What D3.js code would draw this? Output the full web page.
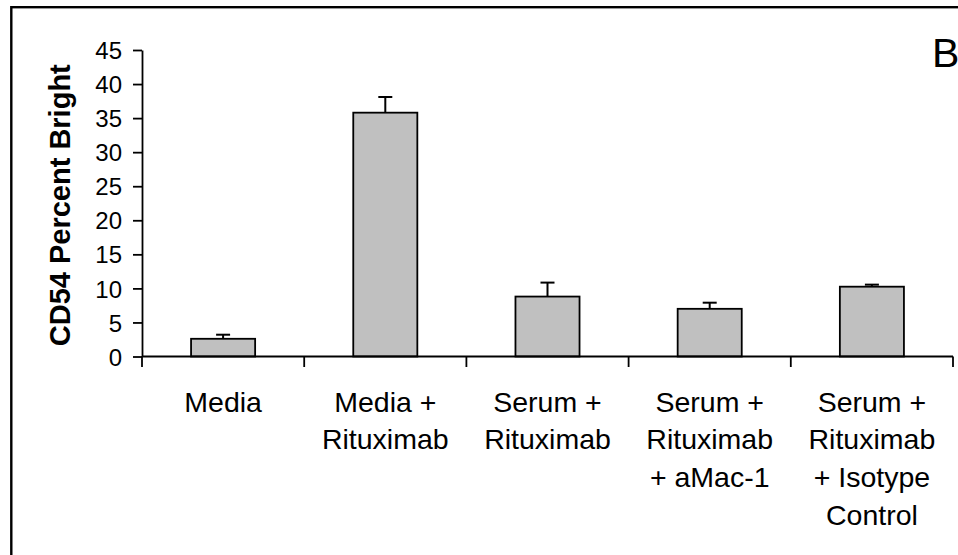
<!DOCTYPE html>
<html lang="en">
<head>
    <meta charset="utf-8">
    <title>CD54 Percent Bright</title>
    <style>
        body {
            margin: 0;
            background-color: white;
            font-family: "Liberation Sans", Arial, sans-serif;
        }

        .axis path, .axis line {
            fill: none;
            stroke: black;
            stroke-width: 1.8px;
        }

        .axis text {
            fill: black;
            font-size: 24px;
            font-family: "Liberation Sans", Arial, sans-serif;
        }

        .bar {
            fill: #c0c0c0;
            stroke: black;
            stroke-width: 1.8px;
        }

        .err {
            stroke: black;
            stroke-width: 2px;
        }
    </style>
</head>
<body>
<div id="chart-container"></div>
<script src="https://d3js.org/d3.v7.min.js"></script>
<script>
    // values
    var categories = ["Media", "Media + Rituximab", "Serum + Rituximab",
        "Serum + Rituximab + aMac-1", "Serum + Rituximab + Isotype Control"];
    var labelLines = [
        ["Media"],
        ["Media +", "Rituximab"],
        ["Serum +", "Rituximab"],
        ["Serum +", "Rituximab", "+ aMac-1"],
        ["Serum +", "Rituximab", "+ Isotype", "Control"]
    ];
    var means = [2.6, 35.8, 8.8, 7.0, 10.25];
    var errors = [0.6, 2.3, 2.05, 0.9, 0.3];
    var yTicks = [0, 5, 10, 15, 20, 25, 30, 35, 40, 45];

    var W = 958, H = 555;
    var plot = { left: 142, right: 953, top: 50, bottom: 356.5 };

    var svg = d3.select("#chart-container")
        .append("svg")
        .attr("width", W)
        .attr("height", H);

    // outer frame (runs off the right and bottom edges)
    svg.append("rect")
        .attr("x", 11.3)
        .attr("y", 7.2)
        .attr("width", 1000)
        .attr("height", 600)
        .style("fill", "none")
        .style("stroke", "black")
        .style("stroke-width", 2.4);

    var x = d3.scaleBand()
        .domain(categories)
        .range([plot.left, plot.right])
        .paddingInner(0.605)
        .paddingOuter(0.3025);

    var y = d3.scaleLinear()
        .domain([0, 45])
        .range([plot.bottom, plot.top]);

    var yAxis = d3.axisLeft(y)
        .tickValues(yTicks)
        .tickSize(9)
        .tickSizeOuter(0)
        .tickPadding(11);

    var gy = svg.append("g")
        .attr("class", "y axis")
        .attr("transform", "translate(" + plot.left + ",0)")
        .call(yAxis);
    gy.selectAll("text").attr("dy", "0.36em");

    // bars
    var data = categories.map(function(c, i) {
        return { cat: c, mean: means[i], err: errors[i], lines: labelLines[i] };
    });

    svg.selectAll(".bar")
        .data(data)
        .enter().append("rect")
        .attr("class", "bar")
        .attr("x", function(d) { return x(d.cat); })
        .attr("y", function(d) { return y(d.mean); })
        .attr("width", x.bandwidth())
        .attr("height", function(d) { return y(0) - y(d.mean); });

    // upper error bars
    var capW = 14;
    var eb = svg.selectAll(".errbar")
        .data(data)
        .enter().append("g")
        .attr("class", "errbar");

    eb.append("line")
        .attr("class", "err")
        .attr("x1", function(d) { return x(d.cat) + x.bandwidth() / 2; })
        .attr("x2", function(d) { return x(d.cat) + x.bandwidth() / 2; })
        .attr("y1", function(d) { return y(d.mean); })
        .attr("y2", function(d) { return y(d.mean + d.err); });

    eb.append("line")
        .attr("class", "err")
        .attr("x1", function(d) { return x(d.cat) + x.bandwidth() / 2 - capW / 2; })
        .attr("x2", function(d) { return x(d.cat) + x.bandwidth() / 2 + capW / 2; })
        .attr("y1", function(d) { return y(d.mean + d.err); })
        .attr("y2", function(d) { return y(d.mean + d.err); });

    // x axis line with ticks at category boundaries
    var step = x.step();
    var bounds = d3.range(categories.length + 1).map(function(i) { return plot.left + i * step; });

    var gx = svg.append("g").attr("class", "x axis");
    gx.append("line")
        .attr("x1", plot.left)
        .attr("x2", plot.right)
        .attr("y1", y(0))
        .attr("y2", y(0));
    gx.selectAll(".xtick")
        .data(bounds)
        .enter().append("line")
        .attr("class", "xtick")
        .attr("x1", function(d) { return d; })
        .attr("x2", function(d) { return d; })
        .attr("y1", y(0))
        .attr("y2", y(0) + 10.5);

    // category labels, one tspan per line
    var lab = svg.selectAll(".catlabel")
        .data(data)
        .enter().append("text")
        .attr("class", "catlabel")
        .attr("text-anchor", "middle")
        .style("font-size", "28.5px")
        .attr("transform", function(d) {
            return "translate(" + (x(d.cat) + x.bandwidth() / 2) + ",411.5)";
        });
    lab.selectAll("tspan")
        .data(function(d) { return d.lines; })
        .enter().append("tspan")
        .attr("x", 0)
        .attr("y", function(d, i) { return i * 37.8; })
        .text(function(d) { return d; });

    // axis title
    svg.append("text")
        .attr("transform", "translate(69.5," + ((plot.top + plot.bottom) / 2 + 2) + ") rotate(-90)")
        .attr("text-anchor", "middle")
        .style("font-size", "29px")
        .style("font-weight", "bold")
        .text("CD54 Percent Bright");

    // panel letter
    svg.append("text")
        .attr("x", 932)
        .attr("y", 67)
        .style("font-size", "41px")
        .text("B");
</script>
</body>
</html>
